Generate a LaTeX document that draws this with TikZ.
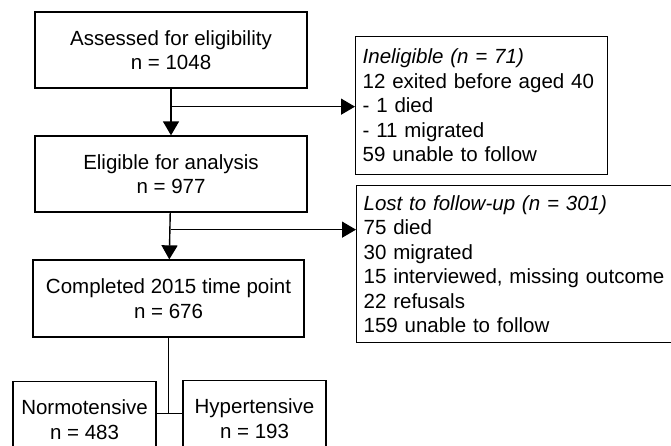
\documentclass[tikz,border=0pt]{standalone}
\usepackage{fontspec}
\setmainfont{Liberation Sans}
\usetikzlibrary{arrows.meta}
\usetikzlibrary{positioning}
\tikzset{
box/.style={draw, line width=1.3pt, align=center, inner sep=0pt,
    minimum width=272pt, minimum height=76pt,
    font=\fontsize{20.5}{24.5}\selectfont},
sidebox/.style={draw, line width=1.3pt, align=left, anchor=north west,
    inner xsep=7pt, inner ysep=0pt,
    font=\fontsize{20.5}{24.5}\selectfont},
flow/.style={line width=1.4pt, -{Triangle[length=14pt,width=16pt]}},
link/.style={line width=1.4pt}
}

\begin{document}
\begin{tikzpicture}[x=1pt,y=-1pt]
    \useasboundingbox (0,0) rectangle (671,446);
    \clip (0,0) rectangle (671,446);
    % main column
    \node[box] (assess) at (171,50) {Assessed for eligibility\\n = 1048};
    \node[box] (elig) at (171,174) {Eligible for analysis\\n = 977};
    \node[box, minimum width=271pt, minimum height=77pt] (compl) at (168.5,298.5) {Completed 2015 time point\\n = 676};
    \node[box, anchor=north, minimum width=143pt] (normo) at (84.5,381) {Normotensive\\n = 483};
    \node[box, anchor=north, minimum width=143pt] (hyper) at (254.5,380) {Hypertensive\\n = 193};
    % exclusions
    \node[sidebox, text width=238pt, minimum height=138pt] (inelig) at (355,36)
        {\textit{Ineligible (n = 71)}\\12 exited before aged 40\\- 1 died\\- 11 migrated\\59 unable to follow};
    \node[sidebox, text width=320pt, minimum height=157pt] (lost) at (356,185)
        {\textit{Lost to follow-up (n = 301)}\\75 died\\30 migrated\\15 interviewed, missing outcome\\22 refusals\\159 unable to follow};
    \coordinate[below=18pt of assess.south] (split1);
    \coordinate[below=17pt of elig.south] (split2);
    \coordinate[below=76pt of compl.south] (join);
    \draw[flow] (assess) -- (elig);
    \draw[flow] (split1) -- (split1 -| inelig.west);
    \draw[flow] (elig) -- (compl);
    \draw[flow] (split2) -- (split2 -| lost.west);
    \draw[link] (compl) -- (join);
    \draw[link] (normo.east |- join) -- (hyper.west |- join);
\end{tikzpicture}
\end{document}
